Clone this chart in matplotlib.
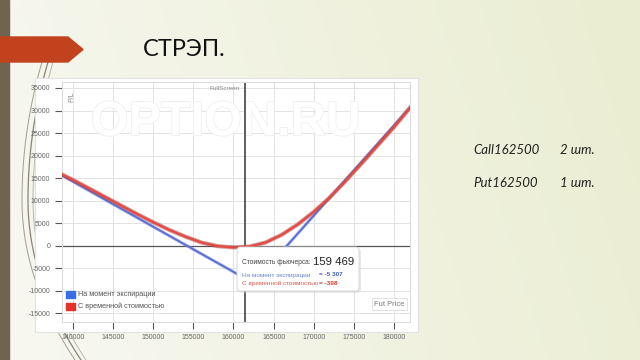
import numpy as np
import matplotlib
matplotlib.use("Agg")
import matplotlib.pyplot as plt
import matplotlib.patheffects as pe
from matplotlib.patches import Polygon, Rectangle, FancyBboxPatch

# chart data
expiry_x = [138625, 162500, 182000]
expiry_y = [15600, -8338, 30662]

time_x = [138625, 140000, 142000, 144000, 146000, 148000, 150000, 152000, 154000,
          156000, 158000, 160000, 162000, 164000, 166000, 168000, 170000, 172000,
          174000, 176000, 178000, 180000, 182000]
time_y = [15800, 14600, 12700, 10800, 8900, 7000, 5200, 3500, 2000,
          700, -100, -400, -200, 700, 2400, 4700, 7500, 10700,
          14400, 18300, 22300, 26300, 30600]

x_ticks = [140000, 145000, 150000, 155000, 160000, 165000, 170000, 175000, 180000]
y_ticks = [-15000, -10000, -5000, 0, 5000, 10000, 15000, 20000, 25000, 30000, 35000]
cursor_price = 161400
legend_labels = ["На момент экспирации", "С временной стоимостью"]

W, H = 640, 360
CF = "Liberation Sans"
fig = plt.figure(figsize=(6.4, 3.6), dpi=100)

# slide background
bg = fig.add_axes([0, 0, 1, 1])
bg.set_xlim(0, W)
bg.set_ylim(H, 0)
bg.axis("off")
gx = np.linspace(0, 1, 256)
gy = np.linspace(0, 1, 64)[:, None]
left_c = np.array([0.972, 0.972, 0.948])
right_c = np.array([0.918, 0.930, 0.820])
t = (gx[None, :] * 0.85 + (1 - gy) * 0.15)
grad = left_c[None, None, :] * (1 - t[..., None]) + right_c[None, None, :] * t[..., None]
bg.imshow(grad, extent=[0, W, H, 0], aspect="auto", zorder=0)

bg.add_patch(Rectangle((0, 0), 9, H, color="#6e644f", zorder=1))
bg.add_patch(Polygon([(0, 37), (68, 37), (83, 49.5), (68, 62), (0, 62)],
                     closed=True, color="#c1421c", zorder=2))

# decorative theme curves (C shape behind the panel)
yy = np.linspace(62, 360, 120)
for dx, lw, a in [(2, 0.7, 0.55), (8, 0.9, 0.7), (13, 0.6, 0.45)]:
    k = np.where(yy < 200, 0.00105, 0.00207)
    xx = 20 + dx + k * (yy - 200) ** 2
    bg.plot(xx, yy, color="#5c5440", lw=lw, alpha=a, zorder=1)

bg.text(143, 49, "СТРЭП.", fontsize=17, family="Lato",
        color="#111111", va="center", ha="left", zorder=3)

for txt, x, y in [("Call162500", 473, 150), ("2 шт.", 560, 150),
                  ("Put162500", 473, 183), ("1 шт.", 560, 183)]:
    bg.text(x, y, txt, fontsize=9.5, family="Lato", style="italic",
            color="#222222", va="center", zorder=3)

# chart panel
bg.add_patch(Rectangle((35, 78), 383, 254, facecolor="white",
                       edgecolor="#e2e2e2", lw=0.8, zorder=2))

ax = fig.add_axes([62 / W, 1 - 322 / H, 348 / W, 240 / H], zorder=5)
ax.set_facecolor("white")
ax.set_xlim(138625, 182000)
ax.set_ylim(-16950, 36330)

ax.text(0.47, 0.83, "OPTION.RU", transform=ax.transAxes, fontsize=35,
        weight="bold", family=CF, color="white", ha="center", va="center", zorder=1,
        path_effects=[pe.withStroke(linewidth=1.2, foreground="#efefef")])

ax.set_xticks(x_ticks)
ax.set_yticks(y_ticks)
ax.set_xticklabels([str(v) for v in x_ticks], family=CF)
ax.set_yticklabels([str(v) for v in y_ticks], family=CF)
ax.tick_params(axis="both", labelsize=5, labelcolor="#666666",
               color="#555555", length=5, width=0.8)
ax.grid(True, color="#e3e3e3", lw=0.7)
ax.set_axisbelow(True)
for sp in ax.spines.values():
    sp.set_color("#dddddd")
    sp.set_linewidth(0.8)

ax.axhline(0, color="#555555", lw=0.9, zorder=2)
ax.axvline(cursor_price, color="#444444", lw=1.2, zorder=2)

ax.plot(expiry_x, expiry_y, color="#5870d8", lw=1.4, zorder=3,
        path_effects=[pe.Stroke(linewidth=2.4, foreground="#8c8cc8", alpha=0.5), pe.Normal()])
ax.plot(time_x, time_y, color="#e44a42", lw=1.6, zorder=4,
        path_effects=[pe.Stroke(linewidth=3.0, foreground="#b04848", alpha=0.55), pe.Normal()])

# legend
ax.add_patch(Rectangle((0.012, 0.10), 0.024, 0.03, transform=ax.transAxes,
                       color="#3a6ee8", zorder=6))
ax.add_patch(Rectangle((0.012, 0.05), 0.024, 0.03, transform=ax.transAxes,
                       color="#e8302a", zorder=6))
ax.text(0.045, 0.115, legend_labels[0], transform=ax.transAxes, fontsize=5.2,
        family=CF, color="#555555", va="center", zorder=6)
ax.text(0.045, 0.065, legend_labels[1], transform=ax.transAxes, fontsize=5.2,
        family=CF, color="#555555", va="center", zorder=6)

ax.text(0.511, 0.985, "FullScreen", transform=ax.transAxes, fontsize=4.6,
        family=CF, color="#888888", ha="right", va="top", zorder=6)
ax.text(0.018, 0.96, "P/L", transform=ax.transAxes, fontsize=5,
        family=CF, color="#888888", rotation=90, ha="left", va="top", zorder=6)
ax.text(0.985, 0.075, "Fut Price", transform=ax.transAxes, fontsize=5.4,
        family=CF, color="#777777", ha="right", va="center", zorder=6,
        bbox=dict(boxstyle="square,pad=0.3", fc="white", ec="#dddddd", lw=0.6))

# tooltip
tip = fig.add_axes([0, 0, 1, 1], zorder=10)
tip.set_xlim(0, W)
tip.set_ylim(H, 0)
tip.axis("off")
tip.add_patch(FancyBboxPatch((239, 249), 122, 44, boxstyle="round,pad=0,rounding_size=3",
                             facecolor="#d4d4d4", edgecolor="none", alpha=0.5))
tip.add_patch(FancyBboxPatch((237, 247), 122, 44, boxstyle="round,pad=0,rounding_size=3",
                             facecolor="white", edgecolor="#d4d4d4", lw=0.6))
tip.text(242, 263, "Стоимость фьючерса:", fontsize=4.8, family=CF, color="#444444", va="center")
tip.text(313, 262, "159 469", fontsize=8.2, family=CF, color="#222222", va="center")
tip.text(242, 275, "На момент экспирации", fontsize=4.6, family=CF, color="#6a85d6", va="center")
tip.text(319, 275, "= -5 307", fontsize=4.6, family=CF, color="#4060c8", weight="bold", va="center")
tip.text(242, 283.5, "С временной стоимостью", fontsize=4.6, family=CF, color="#de5a50", va="center")
tip.text(319, 283.5, "= -398", fontsize=4.6, family=CF, color="#d8402f", weight="bold", va="center")

fig.savefig("out.png", dpi=100)
